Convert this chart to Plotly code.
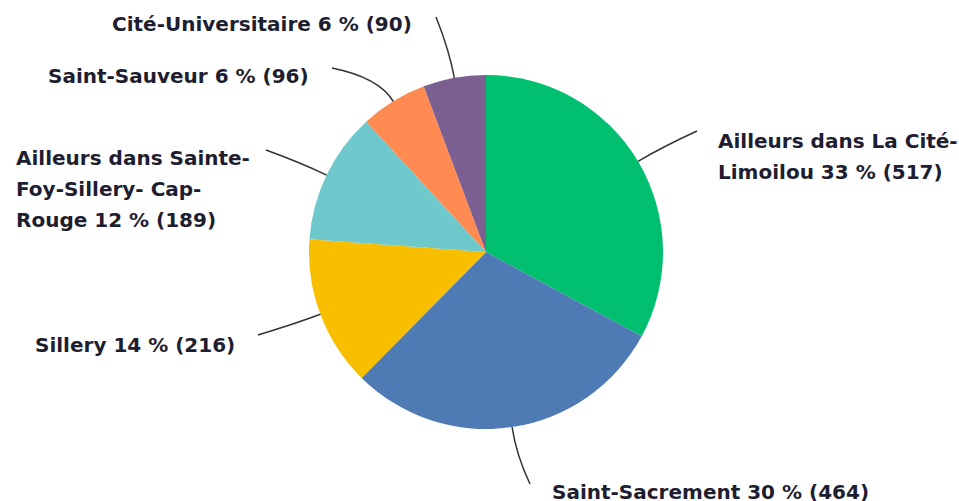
import math
import plotly.graph_objects as go

# ---- data ----
categories = ["Ailleurs dans La Cité-Limoilou", "Saint-Sacrement", "Sillery",
              "Ailleurs dans Sainte-Foy-Sillery- Cap-Rouge", "Saint-Sauveur", "Cité-Universitaire"]
values = [517, 464, 216, 189, 96, 90]
percent_labels = ["33 %", "30 %", "14 %", "12 %", "6 %", "6 %"]
label_lines = [
    ["Ailleurs dans La Cité-", "Limoilou 33 % (517)"],
    ["Saint-Sacrement 30 % (464)"],
    ["Sillery 14 % (216)"],
    ["Ailleurs dans Sainte-", "Foy-Sillery- Cap-", "Rouge 12 % (189)"],
    ["Saint-Sauveur 6 % (96)"],
    ["Cité-Universitaire 6 % (90)"],
]
colors = ["#00BF6F", "#4F7BB4", "#F8BF00", "#6EC8CC", "#FF8B52", "#7B5F90"]

# ---- layout (pixels) ----
W, H = 959, 501
CX, CY, R = 486, 252, 177
# label anchor: (x, first line y, xanchor), leader end point
label_pos = [
    (716, 141, "left", (697, 131)),
    (550, 492, "left", (530, 484)),
    (237, 345, "right", (258, 335)),
    (14, 158, "left", (266, 150)),
    (311, 76, "right", (332, 68)),
    (414, 24, "right", (436, 17)),
]
LINE_GAP = 31

def px(x):
    return x / W

def py(y):
    return 1 - y / H

fig = go.Figure(go.Pie(
    labels=categories, values=values, sort=False, direction="clockwise",
    rotation=0, marker=dict(colors=colors, line=dict(width=0)),
    textinfo="none", hoverinfo="label+value+percent", showlegend=False,
    domain=dict(x=[px(CX - R), px(CX + R)], y=[py(CY + R), py(CY - R)]),
))

total = sum(values)
cum = 0
shapes = []
annotations = []
for i, v in enumerate(values):
    mid = 90 - (cum + v / 2) / total * 360
    cum += v
    a = math.radians(mid)
    sx, sy = CX + R * math.cos(a), CY - R * math.sin(a)
    qx, qy = CX + (R + 28) * math.cos(a), CY - (R + 28) * math.sin(a)
    lx, ly, anchor, (ex, ey) = label_pos[i]
    shapes.append(dict(
        type="path", xref="paper", yref="paper",
        path=f"M {px(sx)},{py(sy)} Q {px(qx)},{py(qy)} {px(ex)},{py(ey)}",
        line=dict(color="#333333", width=1.5),
    ))
    for j, line in enumerate(label_lines[i]):
        annotations.append(dict(
            x=px(lx), y=py(ly + j * LINE_GAP), xref="paper", yref="paper",
            text=line, showarrow=False, xanchor=anchor, yanchor="middle",
            font=dict(family="DejaVu Sans", size=20, color="#1E1E30", weight="bold"),
        ))

fig.update_layout(
    width=W, height=H, margin=dict(l=0, r=0, t=0, b=0),
    paper_bgcolor="white", plot_bgcolor="white",
    shapes=shapes, annotations=annotations,
)
fig.write_html("out.html", config={"displayModeBar": False},
               post_script="document.body.style.margin='0px';")
